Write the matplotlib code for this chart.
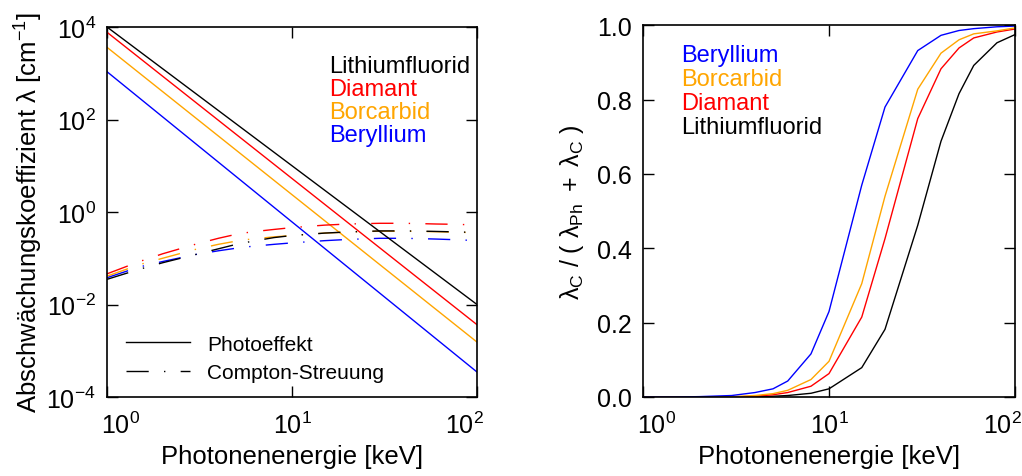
import numpy as np
import matplotlib
matplotlib.use("Agg")
import matplotlib.pyplot as plt
from matplotlib.lines import Line2D
from matplotlib.transforms import ScaledTranslation

plt.rcParams['font.family'] = ['Liberation Sans', 'DejaVu Sans']
plt.rcParams['mathtext.fontset'] = 'custom'
plt.rcParams['mathtext.rm'] = 'Liberation Sans'
plt.rcParams['mathtext.it'] = 'Liberation Sans:italic'
plt.rcParams['mathtext.bf'] = 'Liberation Sans:bold'
plt.rcParams['axes.unicode_minus'] = False

materials = ["Lithiumfluorid", "Diamant", "Borcarbid", "Beryllium"]
colors = {"Lithiumfluorid": "black", "Diamant": "#ff0000",
          "Borcarbid": "#ffa500", "Beryllium": "#0000ff"}

# photo effect (straight in log-log), energies in keV
e_photo = [1, 10, 100]
photo = {
    "Lithiumfluorid": [1.0e4, 10.0, 1.0e-2],
    "Diamant": [7.7e3, 5.3, 3.66e-3],
    "Borcarbid": [3.64e3, 2.37, 1.54e-3],
    "Beryllium": [1.08e3, 0.61, 3.47e-4],
}

# XCOM-like energy grid
energy = [1, 1.5, 2, 3, 4, 5, 6, 8, 10, 15, 20, 30, 40, 50, 60, 80, 100]
compton = {
    "Lithiumfluorid": [0.035, 0.058, 0.08, 0.12, 0.16, 0.2, 0.23, 0.28, 0.31, 0.35, 0.37, 0.39, 0.39, 0.385, 0.38, 0.37, 0.36],
    "Diamant": [0.046, 0.085, 0.125, 0.2, 0.27, 0.33, 0.37, 0.42, 0.46, 0.52, 0.55, 0.57, 0.57, 0.56, 0.55, 0.54, 0.52],
    "Borcarbid": [0.041, 0.073, 0.1, 0.155, 0.2, 0.235, 0.26, 0.29, 0.31, 0.35, 0.37, 0.385, 0.385, 0.38, 0.375, 0.365, 0.355],
    "Beryllium": [0.038, 0.065, 0.085, 0.12, 0.145, 0.165, 0.18, 0.2, 0.215, 0.24, 0.255, 0.27, 0.27, 0.265, 0.26, 0.25, 0.24],
}
ratio = {
    "Beryllium": [0.0, 0.0, 0.001, 0.004, 0.012, 0.022, 0.043, 0.116, 0.230, 0.57, 0.780, 0.932, 0.973, 0.986, 0.991, 0.996, 0.998],
    "Borcarbid": [0.0, 0.0, 0.0, 0.001, 0.004, 0.009, 0.018, 0.047, 0.096, 0.305, 0.54, 0.828, 0.925, 0.961, 0.977, 0.985, 0.993],
    "Diamant": [0.0, 0.0, 0.0, 0.0, 0.002, 0.006, 0.012, 0.029, 0.063, 0.215, 0.426, 0.749, 0.883, 0.939, 0.966, 0.982, 0.99],
    "Lithiumfluorid": [0.0, 0.0, 0.0, 0.0, 0.0, 0.002, 0.004, 0.01, 0.022, 0.079, 0.182, 0.462, 0.688, 0.816, 0.892, 0.953, 0.975],
}

compton_ls = (0, (16, 11, 1, 11))
fs_tick = 18
fs_lab = 18.5

fig = plt.figure(figsize=(10.22, 4.77), dpi=100)
ax1 = fig.add_axes([107 / 1022, 79 / 477, 370 / 1022, 370 / 477])
ax2 = fig.add_axes([643 / 1022, 79 / 477, 372 / 1022, 371.7 / 477])

# left panel
for m in ["Beryllium", "Borcarbid", "Diamant", "Lithiumfluorid"]:
    ax1.plot(e_photo, photo[m], color=colors[m], lw=1)
    ax1.plot(energy, compton[m], color=colors[m], lw=1, linestyle=compton_ls)
ax1.set_xscale('log')
ax1.set_yscale('log')
ax1.set_xlim(1, 100)
ax1.set_ylim(1e-4, 1e4)
ax1.set_xticks([1, 10, 100])
ax1.set_yticks([1e-4, 1e-2, 1, 1e2, 1e4])
ax1.minorticks_off()
ax1.set_xlabel("Photonenenergie [keV]", fontsize=fs_lab, labelpad=4)
ax1.set_ylabel("Abschwächungskoeffizient λ [cm$^{\\mathregular{-1}}$]", fontsize=18.5, labelpad=1)

for i, m in enumerate(materials):
    ax1.text(0.6, 0.895 - i * 0.062, m, color=colors[m], fontsize=17,
             transform=ax1.transAxes, va='center', ha='left')

handles = [Line2D([], [], color='black', lw=1),
           Line2D([], [], color='black', lw=1, linestyle=compton_ls)]
ax1.legend(handles, ["Photoeffekt", "Compton-Streuung"], loc='lower left',
           bbox_to_anchor=(0.0, -0.01), frameon=False, fontsize=15,
           handlelength=3.1, handletextpad=0.8, labelspacing=0.45)

# right panel
for m in ["Lithiumfluorid", "Diamant", "Borcarbid", "Beryllium"]:
    ax2.plot(energy, ratio[m], color=colors[m], lw=1)
ax2.set_xscale('log')
ax2.set_xlim(1, 100)
ax2.set_ylim(0, 1)
ax2.set_xticks([1, 10, 100])
ax2.set_yticks(np.arange(0, 1.01, 0.2))
ax2.set_yticklabels(["0.0", "0.2", "0.4", "0.6", "0.8", "1.0"])
ax2.minorticks_off()
ax2.set_xlabel("Photonenenergie [keV]", fontsize=fs_lab, labelpad=4)
ax2.set_ylabel(r"$\mathregular{λ_C\ /\ (\ λ_{Ph}\ +\ λ_C\ )}$", fontsize=18, labelpad=8)

for i, m in enumerate(["Beryllium", "Borcarbid", "Diamant", "Lithiumfluorid"]):
    ax2.text(0.102, 0.919 - i * 0.064, m, color=colors[m], fontsize=17,
             transform=ax2.transAxes, va='center', ha='left')

for ax in (ax1, ax2):
    ax.tick_params(which='both', direction='in', top=True, right=True,
                   length=8, width=1, labelsize=fs_tick)
    ax.tick_params(axis='x', pad=10.5)
    ax.tick_params(axis='y', pad=8)
    for s in ax.spines.values():
        s.set_linewidth(1.2)
    # shift outer x tick labels inward like the original
    labels = ax.get_xticklabels()
    for lab, dx in zip(labels, [14, 0, -13]):
        lab.set_transform(lab.get_transform() + ScaledTranslation(dx / 100, 0, fig.dpi_scale_trans))

fig.savefig("out.png", dpi=100)
